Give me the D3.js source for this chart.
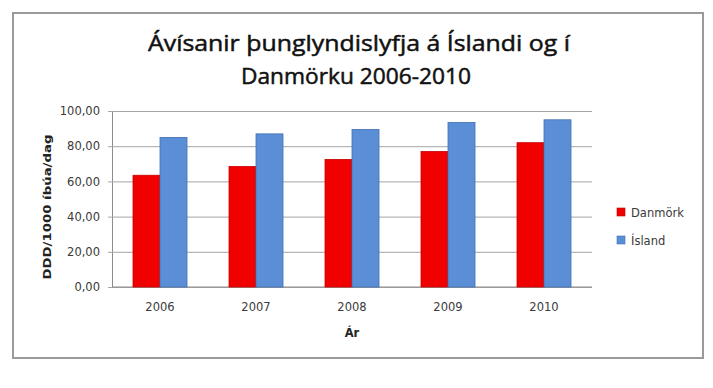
<!DOCTYPE html>
<html><head><meta charset="utf-8">
<script src="https://cdn.jsdelivr.net/npm/d3@7"></script>
<style>body{margin:0;background:#fff}svg{display:block}</style>
</head><body>
<svg id="c" width="713" height="388"></svg>
<script>
const years = ["2006","2007","2008","2009","2010"];
const danmork = [63.5, 68.5, 72.5, 77, 82];
const island = [85, 87, 89.5, 93.5, 95];
const seriesNames = ["Danmörk","Ísland"];
const yTicks = [0,20,40,60,80,100];

const svg = d3.select("#c");
const font = "'Open Sans', 'Noto Sans', sans-serif";
const font2 = "'DejaVu Sans', sans-serif";

svg.append("rect").attr("x",13).attr("y",13).attr("width",690).attr("height",345)
  .attr("fill","#fff").attr("stroke","#9a9a9a").attr("stroke-width",2);

const title = svg.append("g").attr("font-family",font).attr("fill","#111").attr("font-size",22)
  .attr("stroke","#111").attr("stroke-width",0.5);
title.append("text").attr("x",359).attr("y",51).attr("text-anchor","middle")
  .attr("textLength",422).attr("lengthAdjust","spacingAndGlyphs")
  .text("Ávísanir þunglyndislyfja á Íslandi og í");
title.append("text").attr("x",356).attr("y",84).attr("text-anchor","middle")
  .attr("textLength",230).attr("lengthAdjust","spacingAndGlyphs")
  .text("Danmörku 2006-2010");

const x0 = 112, x1 = 592, yTop = 111, yBot = 287;
const x = d3.scaleBand().domain(years).range([x0,x1]).paddingInner(0.4375).paddingOuter(0.21875);
const xs = d3.scaleBand().domain(seriesNames).range([0,x.bandwidth()]);
const y = d3.scaleLinear().domain([0,100]).range([yBot,yTop]);

// gridlines
const yAxis = d3.axisLeft(y).tickValues(yTicks).tickSize(-(x1-x0)).tickFormat(d => d.toFixed(2).replace(".",","));
const gy = svg.append("g").attr("transform",`translate(${x0},0)`).call(yAxis);
gy.select(".domain").attr("stroke","#8c8c8c");
gy.selectAll(".tick line").attr("stroke","#a6a6a6").attr("x1",-4);
gy.selectAll(".tick text").attr("x",-12).attr("font-family",font2).attr("font-size",11.5).attr("fill","#3a3a3a");

// x axis
const gx = svg.append("g").attr("transform",`translate(0,${yBot})`).call(d3.axisBottom(x).tickSize(0));
gx.select(".domain").attr("stroke","#8c8c8c").attr("d",`M${x0},0H${x1}`);
gx.selectAll(".tick text").attr("y",16).attr("font-family",font2).attr("font-size",11.5).attr("fill","#3a3a3a");

const data = [danmork, island];
const colors = ["#f00000","#5a8fd8"];
const strokes = ["#c80000","#3f6fae"];
data.forEach((arr,si) => {
  svg.append("g").selectAll("rect").data(arr).join("rect")
    .attr("x",(d,i)=>x(years[i])+xs(seriesNames[si]))
    .attr("y",d=>y(d))
    .attr("width",xs.bandwidth())
    .attr("height",d=>yBot-y(d))
    .attr("fill",colors[si]).attr("stroke",strokes[si]).attr("stroke-width",0.8);
});

svg.append("text").attr("x",352).attr("y",337).attr("text-anchor","middle")
  .attr("font-family",font2).attr("font-size",11.5).attr("font-weight","bold").attr("fill","#222").text("Ár");
svg.append("text").attr("transform","translate(51,207) rotate(-90)").attr("text-anchor","middle")
  .attr("textLength",145).attr("lengthAdjust","spacingAndGlyphs")
  .attr("font-family",font2).attr("font-size",10.5).attr("font-weight","bold").attr("fill","#222").text("DDD/1000 íbúa/dag");

const leg = svg.append("g");
seriesNames.forEach((n,i)=>{
  const yy = 212 + i*28;
  leg.append("rect").attr("x",617).attr("y",yy-4).attr("width",8).attr("height",8).attr("fill",colors[i]).attr("stroke",strokes[i]).attr("stroke-width",0.6);
  leg.append("text").attr("x",631).attr("y",yy+4.5).attr("font-family",font2).attr("font-size",11.5).attr("fill","#3a3a3a").text(n);
});
</script>
</body></html>
